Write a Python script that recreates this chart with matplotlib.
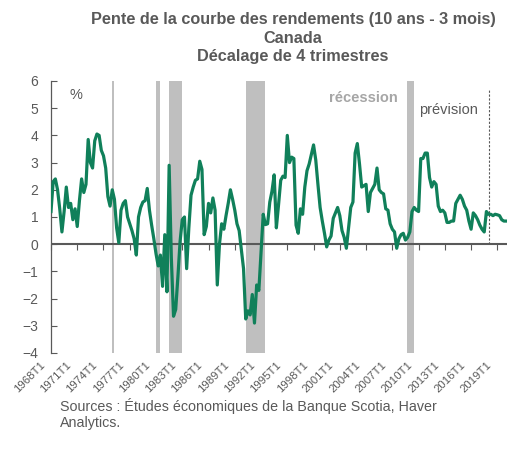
import matplotlib
matplotlib.use("Agg")
import matplotlib.pyplot as plt
from matplotlib.transforms import ScaledTranslation

plt.rcParams['font.family'] = ['Liberation Sans', 'DejaVu Sans']

# 10 ans - 3 mois, decale de 4 trimestres, 1968T1 .. 2020T1
slope = [
    1.2, 2.3, 2.4, 2.0, 1.3, 0.45, 1.2, 2.1, 1.35, 1.5, 0.9, 1.3,
    0.65, 1.6, 2.4, 1.9, 2.2, 3.85, 3.0, 2.8, 3.8, 4.05, 4.0, 3.45,
    3.25, 2.8, 1.75, 1.4, 2.0, 1.65, 0.6, 0.05, 1.25, 1.5, 1.6, 1.0,
    0.75, 0.5, 0.2, -0.4, 1.0, 1.35, 1.55, 1.6, 2.05, 1.25, 0.7, 0.2,
    -0.35, -0.8, -0.4, -1.55, 0.35, -1.75, 2.9, -0.5, -2.65, -2.4, -1.2, 0.1,
    0.9, 1.0, -0.9, 0.6, 1.8, 2.1, 2.35, 2.4, 3.05, 2.75, 0.35, 0.65,
    1.5, 1.15, 1.7, 1.25, -1.5, 0.0, 0.75, 0.55, 1.05, 1.5, 2.0, 1.65,
    1.25, 0.75, 0.5, -0.2, -0.9, -2.75, -2.45, -2.6, -1.85, -2.9, -1.5, -1.7,
    -0.3, 1.1, 0.72, 0.75, 1.55, 1.95, 2.55, 0.6, 1.45, 2.35, 2.5, 2.45,
    4.0, 3.0, 3.2, 3.15, 0.7, 0.4, 1.3, 1.1, 2.1, 2.7, 2.95, 3.3,
    3.65, 3.1, 2.2, 1.35, 0.85, 0.4, -0.1, 0.15, 0.3, 0.95, 1.15, 1.35,
    1.05, 0.5, 0.25, -0.15, 0.6, 1.35, 1.55, 3.35, 3.7, 2.95, 2.1, 2.15,
    2.2, 1.2, 1.9, 2.05, 2.2, 2.8, 2.0, 1.9, 1.85, 1.3, 1.25, 0.75,
    0.55, 0.45, -0.15, 0.2, 0.35, 0.4, 0.15, 0.25, 0.45, 1.2, 1.35, 1.25,
    1.2, 3.15, 3.15, 3.35, 3.35, 2.45, 2.1, 2.3, 2.2, 1.4, 1.2, 1.25,
    1.15, 0.8, 0.8, 0.85, 0.85, 1.5, 1.65, 1.8, 1.65, 1.4, 1.25, 0.85,
    0.55, 1.15, 1.05, 0.9, 0.7, 0.55, 0.45, 1.2, 1.1, 1.1, 1.05, 1.1,
    1.08, 1.05, 0.9, 0.85, 0.85,
]
quarters = [f"{1968 + i // 4}T{i % 4 + 1}" for i in range(len(slope))]

tick_labels = ["1968T1", "1971T1", "1974T1", "1977T1", "1980T1", "1983T1",
               "1986T1", "1989T1", "1992T1", "1995T1", "1998T1", "2001T1",
               "2004T1", "2007T1", "2010T1", "2013T1", "2016T1", "2019T1"]

recessions = [("1975T1", "1975T1"), ("1980T1", "1980T2"), ("1981T3", "1982T4"),
              ("1990T2", "1992T2"), ("2008T4", "2009T2")]

forecast_start = "2018T1"

grey = "#595959"
green = "#10805A"

fig = plt.figure(figsize=(5.15, 4.53), dpi=100)
ax = fig.add_axes([0.099, 0.2208, 0.885, 0.6004])

x = list(range(len(slope)))

for start, end in recessions:
    ax.axvspan(quarters.index(start) - 0.1, quarters.index(end) + 0.9,
               color="#BFBFBF", lw=0, zorder=1)

ax.axhline(0, color=grey, lw=1.5, zorder=2)
ax.plot(x, slope, color=green, lw=2.3, zorder=3, solid_joinstyle="round")

fc = quarters.index(forecast_start)
ax.plot([fc, fc], [0, 5.7], color=grey, lw=0.8, ls=(0, (2, 1.5)), zorder=2)

ax.set_xlim(0, 208.3)
ax.set_ylim(-4, 6)
ax.set_yticks(range(-4, 7))
ax.tick_params(axis="y", direction="in", length=4, width=0.8, color=grey,
               labelcolor=grey, labelsize=10, pad=9)

tick_pos = [quarters.index(t) for t in tick_labels]
ax.set_xticks(tick_pos)
ax.set_xticklabels(tick_labels, rotation=45, ha="right", va="top",
                   rotation_mode="anchor", fontsize=8.2, color=grey)
ax.tick_params(axis="x", length=0, pad=5)
for lab in ax.get_xticklabels():
    lab.set_transform(lab.get_transform() + ScaledTranslation(-8 / 72, 0, fig.dpi_scale_trans))

zero_axis = ax.secondary_xaxis(0.4)
zero_axis.set_xticks(tick_pos)
zero_axis.tick_params(axis="x", direction="out", length=4, width=0.8, color=grey,
                      labelbottom=False, labeltop=False)
zero_axis.spines["bottom"].set_visible(False)
zero_axis.spines["top"].set_visible(False)

for side in ["top", "right", "bottom"]:
    ax.spines[side].set_visible(False)
ax.spines["left"].set_color(grey)
ax.spines["left"].set_linewidth(0.9)

ax.text(0.055, 0.95, "%", transform=ax.transAxes, ha="center", va="center",
        fontsize=10.5, color=grey)
ax.text(0.686, 0.937, "récession", transform=ax.transAxes, ha="center", va="center",
        fontsize=10.5, color="#A6A6A6", fontweight="bold")
ax.text(0.873, 0.893, "prévision", transform=ax.transAxes, ha="center", va="center",
        fontsize=10.5, color=grey)

fig.text(0.569, 0.916, "Pente de la courbe des rendements (10 ans - 3 mois)\nCanada\nDécalage de 4 trimestres",
         ha="center", va="center", fontsize=11.7, fontweight="bold", color=grey,
         linespacing=1.3)

fig.text(0.117, 0.086, "Sources : Études économiques de la Banque Scotia, Haver\nAnalytics.",
         ha="left", va="center", fontsize=10.3, color=grey, linespacing=1.15)

fig.savefig("out.png", dpi=100)
